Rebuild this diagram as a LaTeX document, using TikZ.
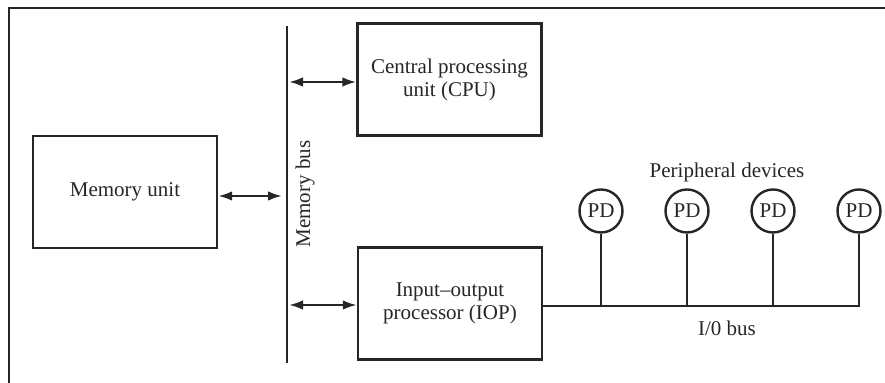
\documentclass[tikz,border=0pt]{standalone}
\usepackage{fontspec}
\setmainfont{Liberation Serif}
\usetikzlibrary{arrows.meta,positioning}
\colorlet{ink}{black!85}

\begin{document}
\begin{tikzpicture}[x=0.5pt,y=-0.5pt,line width=1.2pt,color=ink,>={Latex[length=7pt,width=4.8pt]},
  box/.style={draw,minimum width=92pt,minimum height=56pt,align=center,font=\fontsize{10.5}{11.5}\selectfont},
  pd/.style={circle,draw,minimum size=21.5pt,inner sep=0pt,font=\fontsize{10.5}{12}\selectfont},
  lbl/.style={font=\fontsize{10.5}{12}\selectfont}]
\useasboundingbox (0,0) rectangle (885,383);
\draw[line width=1.4pt] (9,383) -- (9,8) -- (885,8);
\node[box](mem) at (125,192){Memory unit};
\node[box](cpu) at (449.5,79.5){Central processing\\unit (CPU)};
\node[box](iop) at (450,303.5){Input--output\\processor (IOP)};
\coordinate (bustop) at (287,26);
\coordinate (busbot) at (287,363);
\draw (bustop)--(busbot);
\node[lbl,rotate=90](mbus) at (305,194){Memory bus};
\coordinate (m1) at (282,196);
\coordinate (c1) at (289,82);
\coordinate (i1) at (289,305);
\draw[<->](mem.east |- m1)--(m1);
\draw[<->](c1)--(cpu.west |- c1);
\draw[<->](i1)--(iop.west |- i1);
\node[pd](pd1) at (601,211){PD};
\node[pd,right=20.3pt of pd1](pd2){PD};
\node[pd,right=20.3pt of pd2](pd3){PD};
\node[pd,right=20.3pt of pd3](pd4){PD};
\node[lbl](periph) at (727,172){Peripheral devices};
\coordinate (iobus) at (853,306);
\draw (iop.east |- iobus)--(pd4.south |- iobus)--(pd4.south);
\draw (pd1)--(pd1 |- iobus);\draw (pd2)--(pd2 |- iobus);\draw (pd3)--(pd3 |- iobus);
\node[lbl](iolbl) at (727,328){I/0 bus};
\end{tikzpicture}
\end{document}
